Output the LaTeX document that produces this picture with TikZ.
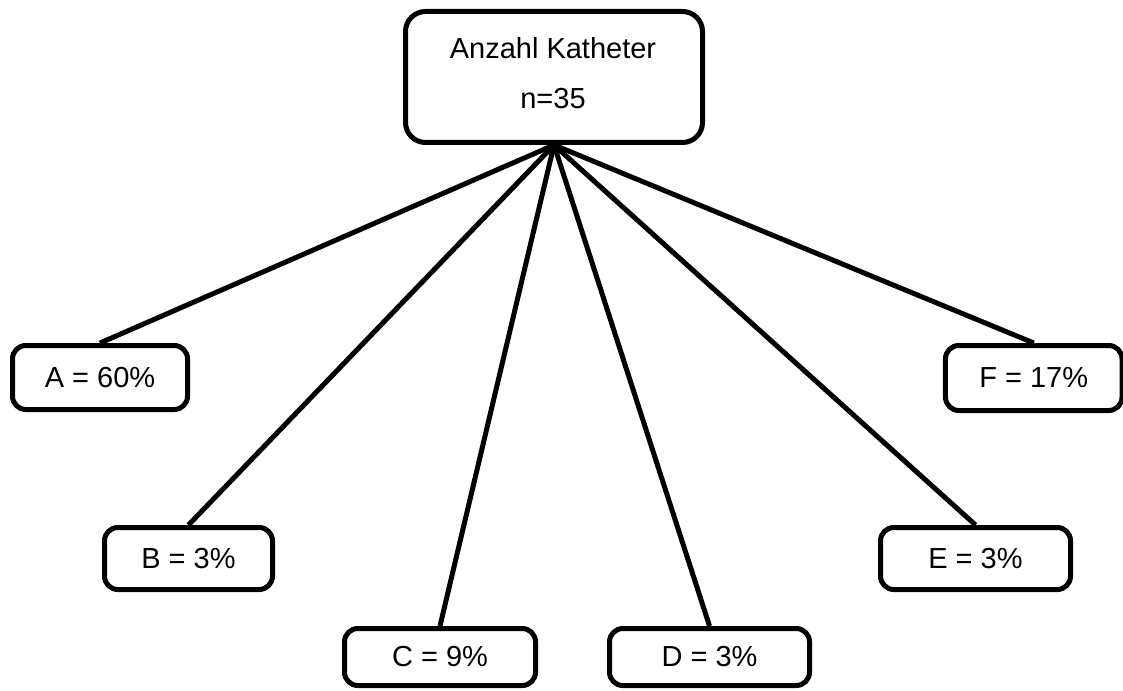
\documentclass[tikz,border=0pt]{standalone}
\usepackage{fontspec}
\setmainfont{Liberation Sans}
\begin{document}
\begin{tikzpicture}[x=0.75pt,y=-0.75pt,
  box/.style={draw=black, line width=3.75pt, rounded corners=10pt, fill=white,
    inner sep=0pt, font=\fontsize{21.75}{26}\selectfont},
  topbox/.style={box, rounded corners=15pt, minimum width=222.75pt, minimum height=98.25pt},
  lbl/.style={inner sep=0pt, font=\fontsize{21.75}{37.5}\selectfont, align=center},
  conn/.style={line width=3.75pt}]
\useasboundingbox (0,0) rectangle (1123,691);
\fill[white] (0,0) rectangle (1123,691);
\node[topbox] (top) at (554,77) {};
\node[lbl] (toptext) at (553,73.5) {Anzahl Katheter\\n=35};
\node[box, minimum width=131.25pt, minimum height=48pt] (A) at (100,377.5) {A = 60\%};
\node[box, minimum width=126pt, minimum height=46.5pt] (B) at (188.5,558.5) {B = 3\%};
\node[box, minimum width=143.25pt, minimum height=42.75pt] (C) at (440,657) {C = 9\%};
\node[box, minimum width=150pt, minimum height=42.75pt] (D) at (709.5,657) {D = 3\%};
\node[box, minimum width=142.5pt, minimum height=46.5pt] (E) at (975.5,558.5) {E = 3\%};
\node[box, minimum width=132.4pt, minimum height=48.75pt] (F) at (1033.75,378) {F = 17\%};
\foreach \t in {A,B,C,D,E,F}
  \draw[conn] (top.south) -- (\t.north);
\end{tikzpicture}
\end{document}
